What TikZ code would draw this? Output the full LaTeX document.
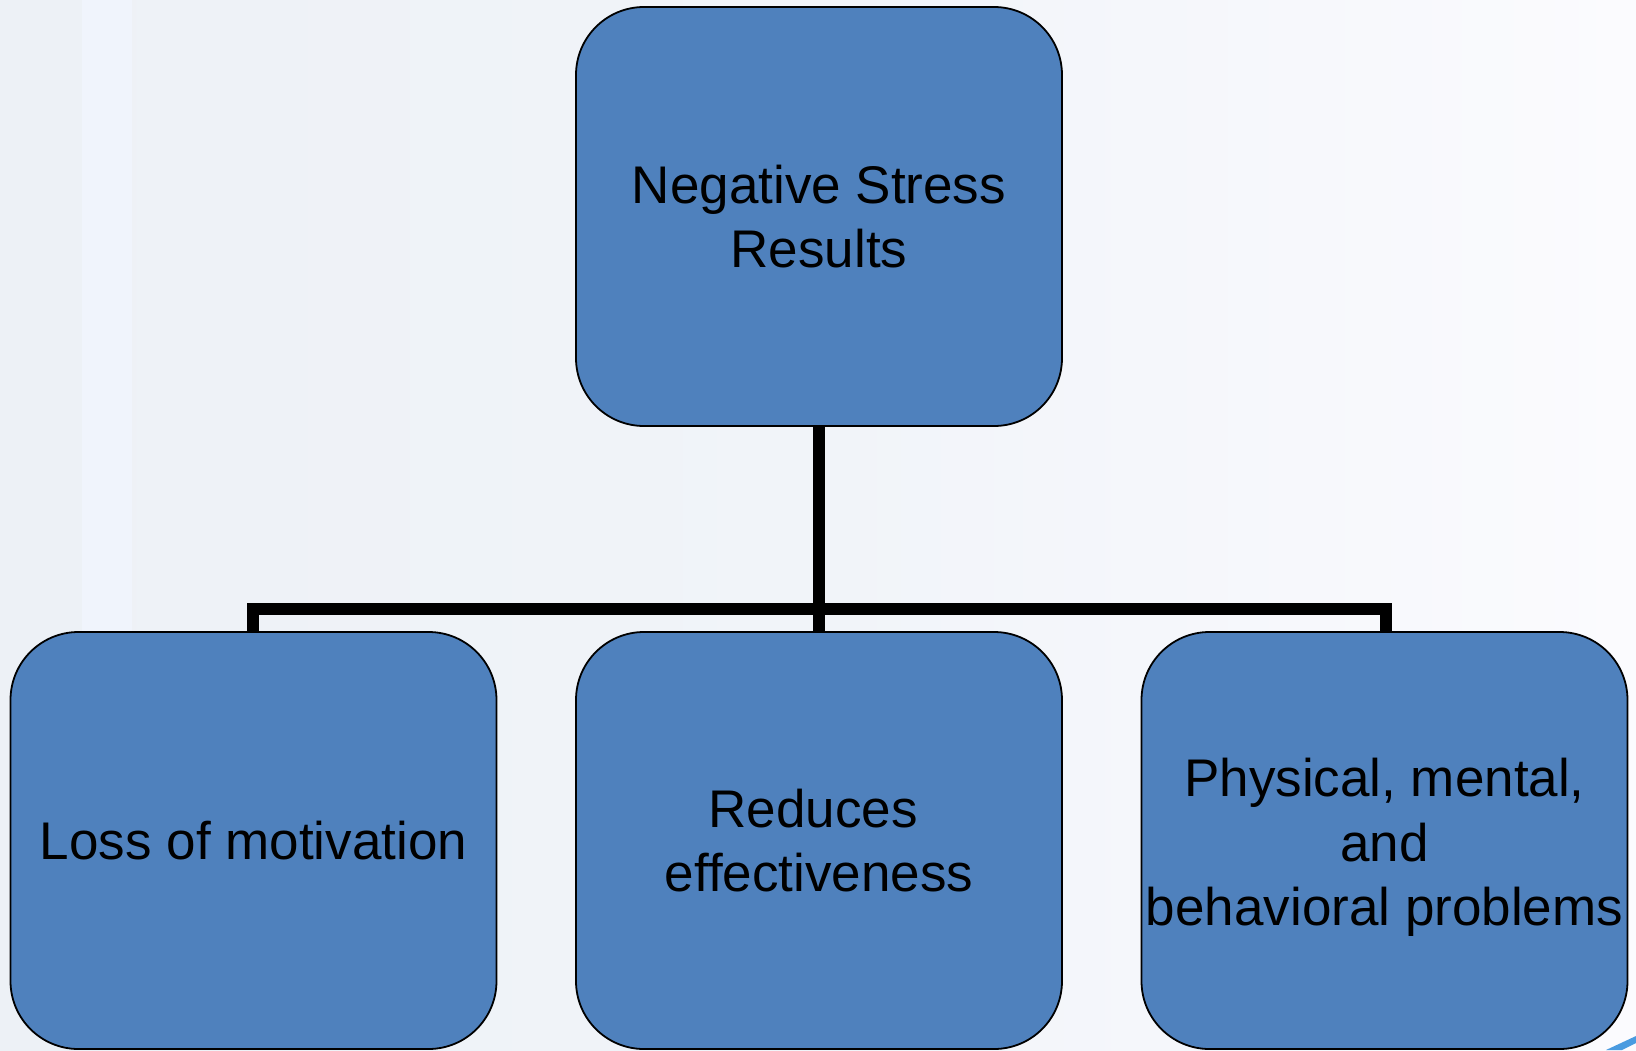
\documentclass[tikz,border=0pt]{standalone}
\usepackage{fontspec}
\setmainfont{Liberation Sans}
\definecolor{boxblue}{HTML}{4F81BD}
\definecolor{bgleft}{HTML}{EDF1F6}
\definecolor{bgstrip}{HTML}{F0F4FC}
\definecolor{bgmid}{HTML}{F1F4F9}
\definecolor{bgright}{HTML}{FBFBFE}
\definecolor{streak}{HTML}{4A9BE0}
\begin{document}
\begin{tikzpicture}[x=1pt,y=-1pt,
  box/.style={draw=black, line width=1.8pt, fill=boxblue, rounded corners=68pt,
    minimum width=486pt, inner sep=0pt, align=center,
    font=\fontsize{53}{64.5}\selectfont, text=black},
  boxtext/.style={inner sep=0pt, align=center,
    font=\fontsize{53}{64.5}\selectfont, text=black},
  conn/.style={draw=black, line width=12pt}]
\useasboundingbox (0,0) rectangle (1636,1050);
\shade[left color=bgleft, right color=bgright, middle color=bgmid] (0,0) rectangle (1636,1050);
\fill[bgleft] (0,0) rectangle (82,1050);
\fill[bgstrip] (82,0) rectangle (132,1050);
\fill[streak] (1606,1050) -- (1636,1036) -- (1636,1043) -- (1622,1050) -- cycle;
\node[box, minimum height=419pt] (top) at (819,216.5) {Negative Stress\\Results};
\node[box, minimum height=417pt] (left) at (253.5,840.5) {Loss of motivation};
\node[box, minimum height=417pt] (mid) at (819,840.5) {Reduces\hspace*{12pt}\\effectiveness};
\node[box, minimum height=417pt] (right) at (1384.5,840.5) {};
\node[boxtext] (righttext) at (1384.5,847.5) {Physical, mental,\\and\\behavioral problems};
\coordinate (bar) at (819,609);
\draw[conn] (top.south) -- (mid.north);
\draw[conn] (left.north -| 253,0) |- (bar) -| (right.north -| 1386,0);
\end{tikzpicture}
\end{document}
